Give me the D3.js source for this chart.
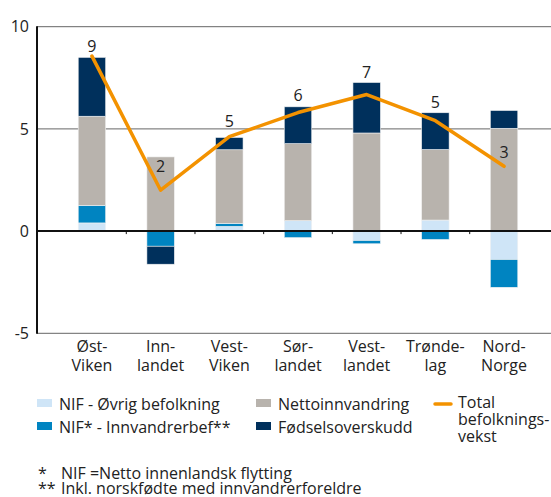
<!DOCTYPE html>
<html>
<head>
<meta charset="utf-8">
<script src="https://cdn.jsdelivr.net/npm/d3@7"></script>
<style>
  body { margin: 0; background: #fff; }
  svg { display: block; font-family: 'Open Sans', sans-serif; }
</style>
</head>
<body>
<div id="chart"></div>
<script>
// regions (two-line labels)
const regions = ['Øst-Viken', 'Innlandet', 'Vest-Viken', 'Sørlandet', 'Vestlandet', 'Trøndelag', 'Nord-Norge'];
const regionLines = [['Øst-', 'Viken'], ['Inn-', 'landet'], ['Vest-', 'Viken'], ['Sør-', 'landet'], ['Vest-', 'landet'], ['Trønde-', 'lag'], ['Nord-', 'Norge']];

// components, percent
const nifOvrig = [0.4, 0, 0.23, 0.51, -0.46, 0.54, -1.39];
const nifInnv = [0.86, -0.74, 0.15, -0.32, -0.16, -0.41, -1.36];
const nettoInnv = [4.36, 3.63, 3.6, 3.77, 4.8, 3.45, 5.03];
const fodsel = [2.88, -0.88, 0.6, 1.8, 2.47, 1.8, 0.87];

// total growth line + rounded labels
const total = [8.56, 2.0, 4.62, 5.8, 6.68, 5.4, 3.17];
const totalLabels = ['9', '2', '5', '6', '7', '5', '3'];
const labelAnchor = [8.78, 2.9, 5.1, 6.36, 7.5, 6.04, 3.56];

const yTicks = [-5, 0, 5, 10];

const keys = ['nifOvrig', 'nifInnv', 'netto', 'fodsel'];
const colors = {
  nifOvrig: '#cfe5f7',
  nifInnv: '#0084c1',
  netto: '#b8b3ad',
  fodsel: '#00305c',
};
const orange = '#f39200';

const width = 551;
const height = 497;

const rows = regions.map((r, i) => ({
  region: r,
  nifOvrig: nifOvrig[i],
  nifInnv: nifInnv[i],
  netto: nettoInnv[i],
  fodsel: fodsel[i],
}));

const svg = d3
  .select('#chart')
  .append('svg')
  .attr('width', width)
  .attr('height', height);

const x = d3.scaleBand().domain(regions).range([37, 559]).padding(0.6);
const y = d3.scaleLinear().domain([-5, 10]).range([333.3, 26.7]);

// gridlines
svg
  .append('g')
  .selectAll('line')
  .data(yTicks.filter((t) => t !== 0))
  .join('line')
  .attr('x1', 37)
  .attr('x2', width)
  .attr('y1', (d) => y(d))
  .attr('y2', (d) => y(d))
  .attr('stroke', '#666')
  .attr('stroke-width', 1);

// tick labels
svg
  .append('g')
  .selectAll('text')
  .data(yTicks)
  .join('text')
  .attr('x', 29)
  .attr('y', (d) => y(d))
  .attr('dy', '0.36em')
  .attr('text-anchor', 'end')
  .attr('font-size', 16)
  .attr('fill', '#222')
  .text((d) => d);

// stacked bars
const series = d3.stack().keys(keys).offset(d3.stackOffsetDiverging)(rows);

svg
  .append('g')
  .selectAll('g')
  .data(series)
  .join('g')
  .attr('fill', (s) => colors[s.key])
  .selectAll('rect')
  .data((s) => s)
  .join('rect')
  .attr('x', (d) => x(d.data.region))
  .attr('width', x.bandwidth())
  .attr('y', (d) => y(Math.max(d[0], d[1])))
  .attr('height', (d) => Math.abs(y(d[0]) - y(d[1])))
  .attr('stroke', '#f2f2f2')
  .attr('stroke-width', 0.6);

// zero line and y axis
svg
  .append('line')
  .attr('x1', 37)
  .attr('x2', width)
  .attr('y1', y(0))
  .attr('y2', y(0))
  .attr('stroke', '#111')
  .attr('stroke-width', 2);

// small ticks between categories
svg
  .append('g')
  .selectAll('line')
  .data(regions.slice(1))
  .join('line')
  .attr('x1', (d) => x(d) - (x.step() - x.bandwidth()) / 2)
  .attr('x2', (d) => x(d) - (x.step() - x.bandwidth()) / 2)
  .attr('y1', y(0))
  .attr('y2', y(0) + 3)
  .attr('stroke', '#111')
  .attr('stroke-width', 1);

svg
  .append('line')
  .attr('x1', 37)
  .attr('x2', 37)
  .attr('y1', y(10) - 0.5)
  .attr('y2', y(-5) + 0.5)
  .attr('stroke', '#111')
  .attr('stroke-width', 2);

// total line
const cx = (r) => x(r) + x.bandwidth() / 2;

svg
  .append('path')
  .datum(total)
  .attr('fill', 'none')
  .attr('stroke', orange)
  .attr('stroke-width', 3.5)
  .attr('stroke-linejoin', 'round')
  .attr('stroke-linecap', 'round')
  .attr(
    'd',
    d3
      .line()
      .x((d, i) => cx(regions[i]))
      .y((d) => y(d))
  );

svg
  .append('g')
  .selectAll('text')
  .data(totalLabels)
  .join('text')
  .attr('x', (d, i) => cx(regions[i]))
  .attr('y', (d, i) => y(labelAnchor[i]))
  .attr('text-anchor', 'middle')
  .attr('font-size', 16)
  .attr('fill', '#222')
  .text((d) => d);

// category labels
const cat = svg
  .append('g')
  .selectAll('text')
  .data(regionLines)
  .join('text')
  .attr('x', (d, i) => cx(regions[i]))
  .attr('y', 352)
  .attr('text-anchor', 'middle')
  .attr('font-size', 16)
  .attr('fill', '#222');

cat
  .selectAll('tspan')
  .data((d) => d)
  .join('tspan')
  .attr('x', function () {
    return d3.select(this.parentNode).attr('x');
  })
  .attr('dy', (d, i) => (i === 0 ? 0 : 18.5))
  .text((d) => d);

// legend
const legendItems = [
  { key: 'nifOvrig', label: 'NIF - Øvrig befolkning', x: 37, y: 410 },
  { key: 'nifInnv', label: 'NIF* - Innvandrerbef**', x: 37, y: 433 },
  { key: 'netto', label: 'Nettoinnvandring', x: 256, y: 410 },
  { key: 'fodsel', label: 'Fødselsoverskudd', x: 256, y: 433 },
];

const legend = svg.append('g').attr('font-size', 16).attr('fill', '#222');

legendItems.forEach((item) => {
  legend
    .append('rect')
    .attr('x', item.x)
    .attr('y', item.y - 11)
    .attr('width', 15)
    .attr('height', 8)
    .attr('fill', colors[item.key]);
  legend
    .append('text')
    .attr('x', item.x + 22)
    .attr('y', item.y)
    .text(item.label);
});

legend
  .append('line')
  .attr('x1', 435)
  .attr('x2', 451)
  .attr('y1', 404)
  .attr('y2', 404)
  .attr('stroke', orange)
  .attr('stroke-width', 3.5)
  .attr('stroke-linecap', 'round');

legend
  .append('text')
  .selectAll('tspan')
  .data(['Total', 'befolknings-', 'vekst'])
  .join('tspan')
  .attr('x', 458)
  .attr('y', (d, i) => 408 + i * 17)
  .text((d) => d);

// footnotes
const notes = svg.append('g').attr('font-size', 16).attr('fill', '#222');
notes.append('text').attr('x', 38).attr('y', 479).text('*');
notes.append('text').attr('x', 61).attr('y', 479).text('NIF =Netto innenlandsk flytting');
notes.append('text').attr('x', 38).attr('y', 494).text('**');
notes.append('text').attr('x', 61).attr('y', 494).text('Inkl. norskfødte med innvandrerforeldre');
</script>
</body>
</html>
